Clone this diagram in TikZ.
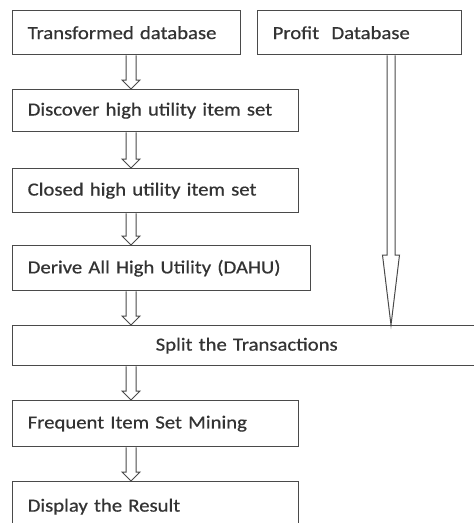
\documentclass[tikz,border=0pt]{standalone}
\usepackage{fontspec}
\setmainfont{Carlito}[FakeStretch=1.12, FakeBold=0.6, WordSpace=0.7]
\usetikzlibrary{calc}
\definecolor{txt}{HTML}{333333}
\definecolor{ln}{HTML}{4A4A4A}
\newcommand{\blockarrow}[5]{%
  \draw[arr] let \p1=(#1), \p2=(#2) in
    (\x1-#3,\y1) -- (\x1-#3,\y2+#5) -- (\x1-#4,\y2+#5) -- (\x1,\y2)
    -- (\x1+#4,\y2+#5) -- (\x1+#3,\y2+#5) -- (\x1+#3,\y1);}
\begin{document}
\begin{tikzpicture}[x=1pt,y=-1pt,
  box/.style={draw=ln, line width=1.4pt, anchor=north west, inner xsep=15pt, inner ysep=0pt,
    align=left, text=txt, font=\fontsize{18.5}{20}\selectfont},
  arr/.style={draw=ln, line width=1pt, fill=white, line join=miter}]
\useasboundingbox (0,0) rectangle (474,523);
\clip (0,0) rectangle (474,523);
\coordinate (ax) at (131,0);
\coordinate (px) at (391,0);
\node[box, text width=198pt, minimum height=44pt] (t) at (12,10) {Transformed database};
\node[box, text width=174pt, minimum height=44pt] (p) at (257,10) {Profit\ \ Database};
\node[box, text width=256pt, minimum height=42pt] (d) at (12,89) {Discover high utility item set};
\node[box, text width=256pt, minimum height=44pt] (c) at (12,168) {Closed high utility item set};
\node[box, text width=268pt, minimum height=45pt] (h) at (12,245) {Derive All High Utility (DAHU)};
\node[box, text width=438pt, minimum height=40pt, align=center] (s) at (12,325) {Split the Transactions};
\node[box, text width=256pt, minimum height=46pt] (f) at (12,400) {Frequent Item Set Mining};
\node[box, text width=256pt, minimum height=50pt] (r) at (12,481) {Display the Result};
\blockarrow{t.south -| ax}{d.north -| ax}{5pt}{9pt}{9pt}
\blockarrow{d.south -| ax}{c.north -| ax}{5pt}{9pt}{9pt}
\blockarrow{c.south -| ax}{h.north -| ax}{5pt}{9pt}{9pt}
\blockarrow{h.south -| ax}{s.north -| ax}{5pt}{9pt}{9pt}
\blockarrow{s.south -| ax}{f.north -| ax}{5pt}{9pt}{9pt}
\blockarrow{f.south -| ax}{r.north -| ax}{5pt}{9pt}{9pt}
\blockarrow{p.south -| px}{s.north -| px}{4pt}{8.5pt}{70pt}
\end{tikzpicture}
\end{document}
